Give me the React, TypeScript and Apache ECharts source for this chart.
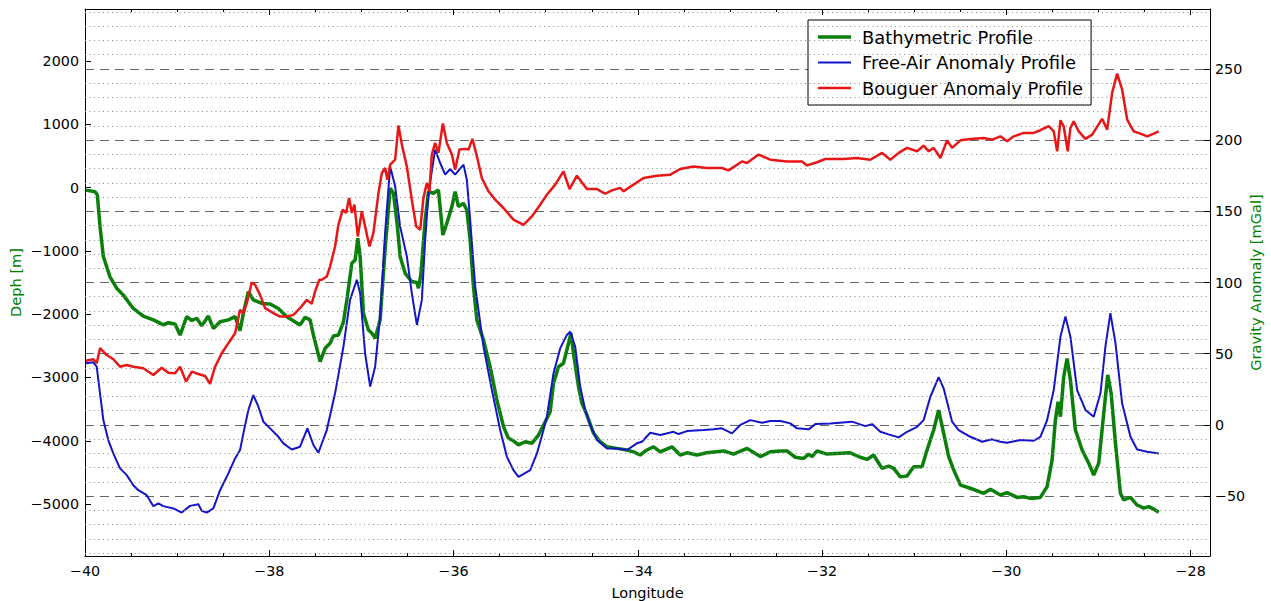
import { useEffect, useRef } from "react";
import * as echarts from "echarts";

// Bathymetric profile: [longitude, depth in m] (left axis)
const bathymetry: [number, number][] = [
  [-39.989, -41], [-39.891, -65], [-39.866, -120], [-39.837, -618], [-39.801, -1090], [-39.729, -1410],
  [-39.656, -1590], [-39.584, -1700], [-39.476, -1910], [-39.367, -2030], [-39.258, -2090], [-39.150, -2170],
  [-39.096, -2135], [-39.023, -2155], [-38.968, -2330], [-38.896, -2040], [-38.841, -2100], [-38.787, -2065],
  [-38.733, -2185], [-38.661, -2030], [-38.607, -2225], [-38.534, -2120], [-38.444, -2090], [-38.371, -2040],
  [-38.317, -2260], [-38.281, -1985], [-38.227, -1645], [-38.173, -1775], [-38.081, -1830], [-37.991, -1840],
  [-37.901, -1910], [-37.810, -2040], [-37.666, -2170], [-37.611, -2050], [-37.557, -2090], [-37.521, -2330],
  [-37.448, -2750], [-37.394, -2540], [-37.340, -2460], [-37.304, -2345], [-37.250, -2330], [-37.195, -2120],
  [-37.158, -1775], [-37.104, -1195], [-37.068, -1145], [-37.039, -800], [-37.014, -1090], [-36.978, -1985],
  [-36.924, -2250], [-36.887, -2300], [-36.851, -2380], [-36.797, -2090], [-36.743, -985], [-36.688, -10],
  [-36.652, -90], [-36.609, -618], [-36.580, -1090], [-36.525, -1355], [-36.453, -1485], [-36.398, -1500],
  [-36.381, -1590], [-36.355, -1380], [-36.308, -510], [-36.272, -65], [-36.218, -90], [-36.164, -40],
  [-36.116, -750], [-36.073, -565], [-36.018, -300], [-35.983, -65], [-35.947, -300], [-35.892, -250],
  [-35.856, -355], [-35.820, -830], [-35.784, -1565], [-35.747, -2090], [-35.675, -2410], [-35.603, -2830],
  [-35.530, -3355], [-35.458, -3775], [-35.404, -3960], [-35.350, -4000], [-35.295, -4065], [-35.222, -4015],
  [-35.150, -4040], [-35.078, -3910], [-35.005, -3700], [-34.951, -3540], [-34.915, -3090], [-34.861, -2830],
  [-34.807, -2775], [-34.752, -2460], [-34.726, -2300], [-34.698, -2620], [-34.644, -3145], [-34.607, -3410],
  [-34.553, -3590], [-34.481, -3880], [-34.408, -4015], [-34.335, -4095], [-34.227, -4120], [-34.118, -4145],
  [-34.047, -4175], [-33.974, -4225], [-33.901, -4145], [-33.829, -4095], [-33.757, -4175], [-33.630, -4095],
  [-33.540, -4225], [-33.467, -4190], [-33.358, -4225], [-33.250, -4190], [-33.069, -4160], [-32.961, -4210],
  [-32.815, -4120], [-32.671, -4250], [-32.562, -4175], [-32.454, -4160], [-32.381, -4160], [-32.291, -4260],
  [-32.201, -4280], [-32.146, -4210], [-32.109, -4250], [-32.055, -4160], [-31.947, -4210], [-31.694, -4190],
  [-31.585, -4260], [-31.512, -4295], [-31.441, -4225], [-31.350, -4435], [-31.278, -4400], [-31.223, -4435],
  [-31.151, -4570], [-31.078, -4555], [-31.006, -4410], [-30.915, -4410], [-30.861, -4145], [-30.789, -3830],
  [-30.735, -3515], [-30.681, -3880], [-30.626, -4250], [-30.572, -4460], [-30.499, -4700], [-30.391, -4750],
  [-30.246, -4830], [-30.173, -4765], [-30.065, -4855], [-29.992, -4820], [-29.884, -4895], [-29.812, -4885],
  [-29.739, -4910], [-29.631, -4895], [-29.558, -4725], [-29.504, -4305], [-29.468, -3670], [-29.439, -3385],
  [-29.413, -3620], [-29.378, -2990], [-29.341, -2700], [-29.305, -3040], [-29.251, -3830], [-29.178, -4145],
  [-29.106, -4355], [-29.052, -4540], [-28.998, -4355], [-28.943, -3565], [-28.900, -2960], [-28.863, -3250],
  [-28.816, -4040], [-28.762, -4830], [-28.726, -4935], [-28.653, -4895], [-28.581, -5015], [-28.509, -5065],
  [-28.455, -5040], [-28.400, -5080], [-28.346, -5130],
];

// Free-air anomaly: [longitude, mGal] (right axis)
const freeAir: [number, number][] = [
  [-39.989, 43.3], [-39.910, 44], [-39.873, 40.9], [-39.837, 22.2], [-39.801, 3.4], [-39.747, -10.6],
  [-39.693, -20], [-39.620, -30.5], [-39.547, -35.2], [-39.476, -42.3], [-39.421, -45.8], [-39.330, -49.3],
  [-39.258, -57], [-39.204, -55.1], [-39.150, -57], [-39.041, -58.6], [-38.950, -61.5], [-38.860, -56.8],
  [-38.770, -55.6], [-38.733, -60.3], [-38.679, -61.5], [-38.607, -58.6], [-38.534, -45.8], [-38.444, -34],
  [-38.371, -23.5], [-38.317, -17.6], [-38.281, -5.9], [-38.227, 10.5], [-38.173, 21], [-38.118, 12.8],
  [-38.064, 2.3], [-37.991, -2.4], [-37.901, -8.3], [-37.847, -12.9], [-37.756, -17.2], [-37.666, -15.3],
  [-37.586, -2.4], [-37.521, -14.1], [-37.467, -19.5], [-37.376, -3.6], [-37.286, 22.2], [-37.195, 55],
  [-37.123, 87.8], [-37.050, 101.9], [-37.014, 92.5], [-36.960, 50.3], [-36.905, 26.9], [-36.851, 40.9],
  [-36.797, 76.1], [-36.743, 134.7], [-36.688, 181.5], [-36.634, 167.5], [-36.580, 139.4], [-36.507, 118.3],
  [-36.453, 92.5], [-36.398, 70.2], [-36.344, 87.8], [-36.308, 130], [-36.272, 162.8], [-36.200, 193.3],
  [-36.145, 183.9], [-36.091, 175.7], [-36.037, 179.7], [-35.983, 175.7], [-35.892, 182.7], [-35.856, 172.2],
  [-35.820, 144.1], [-35.765, 97.2], [-35.675, 55], [-35.584, 24.5], [-35.494, -3.6], [-35.421, -22.4],
  [-35.350, -31.7], [-35.295, -36.4], [-35.168, -31.7], [-35.095, -20], [-35.024, -3.6], [-34.987, 5.8],
  [-34.915, 36.3], [-34.842, 53.9], [-34.770, 63.2], [-34.734, 65.5], [-34.680, 55], [-34.625, 26.9],
  [-34.571, 10.5], [-34.517, 0], [-34.444, -10.6], [-34.335, -16.5], [-34.227, -16.5], [-34.118, -17.6],
  [-34.010, -12.9], [-33.955, -11.8], [-33.865, -5.5], [-33.757, -7.1], [-33.612, -4.8], [-33.558, -6.4],
  [-33.467, -4.3], [-33.286, -3.6], [-33.178, -3.1], [-33.087, -2.4], [-32.978, -5.9], [-32.888, 0],
  [-32.779, 3.4], [-32.652, 1.5], [-32.562, 2.7], [-32.454, 2.7], [-32.418, 2.3], [-32.345, 1.1],
  [-32.273, -2.4], [-32.146, -3.1], [-32.073, 0.6], [-31.911, 1.1], [-31.675, 2.3], [-31.531, -0.8],
  [-31.458, 0.6], [-31.368, -4.8], [-31.278, -6.6], [-31.169, -8.7], [-31.078, -4.8], [-30.969, -1.3],
  [-30.898, 3.4], [-30.825, 19.8], [-30.735, 33.5], [-30.681, 25.7], [-30.589, 2.3], [-30.518, -3.6],
  [-30.391, -8.3], [-30.263, -11.8], [-30.155, -10.1], [-30.065, -11.8], [-29.992, -12.5], [-29.848, -10.6],
  [-29.703, -11.1], [-29.631, -8.3], [-29.558, 3.4], [-29.486, 24.5], [-29.413, 62], [-29.359, 76.1],
  [-29.305, 62], [-29.232, 24.5], [-29.142, 10.5], [-29.052, 5.8], [-28.979, 22.2], [-28.925, 55],
  [-28.871, 78.5], [-28.816, 57.4], [-28.744, 15.2], [-28.653, -8.3], [-28.581, -17.2], [-28.472, -18.8],
  [-28.346, -20],
];

// Bouguer anomaly: [longitude, mGal] (right axis)
const bouguer: [number, number][] = [
  [-39.989, 45.1], [-39.910, 46.1], [-39.873, 43.3], [-39.837, 53.9], [-39.764, 49.1], [-39.693, 46.1],
  [-39.620, 40.9], [-39.547, 42.1], [-39.476, 40.9], [-39.367, 39.8], [-39.258, 35.1], [-39.167, 40.2],
  [-39.096, 36.7], [-39.023, 36.3], [-38.968, 40.9], [-38.903, 30.4], [-38.841, 37.4], [-38.770, 35.8],
  [-38.697, 34.4], [-38.643, 28.8], [-38.588, 40.9], [-38.516, 50.3], [-38.444, 57.4], [-38.371, 64.4],
  [-38.317, 80.8], [-38.281, 78.5], [-38.244, 85.5], [-38.190, 100], [-38.154, 98.4], [-38.100, 91.3],
  [-38.046, 82], [-37.955, 78.5], [-37.883, 76.1], [-37.810, 76.1], [-37.738, 77.3], [-37.666, 82],
  [-37.593, 87.8], [-37.539, 85], [-37.503, 93.7], [-37.456, 101.9], [-37.430, 101.9], [-37.376, 104.2],
  [-37.340, 111.2], [-37.286, 125.3], [-37.250, 140.5], [-37.202, 151.1], [-37.166, 148.8], [-37.134, 159.3],
  [-37.104, 148.8], [-37.076, 154.6], [-37.039, 132.3], [-36.996, 149.9], [-36.960, 139.4], [-36.913, 125.3],
  [-36.870, 134.7], [-36.815, 162.8], [-36.778, 176.9], [-36.743, 180.4], [-36.718, 172.2], [-36.688, 182.7],
  [-36.634, 186.2], [-36.598, 210.2], [-36.561, 196.8], [-36.507, 181.5], [-36.453, 158.1], [-36.406, 139.4],
  [-36.362, 137], [-36.327, 159.3], [-36.290, 169.9], [-36.262, 164], [-36.236, 189.8], [-36.200, 198],
  [-36.164, 191], [-36.116, 211.6], [-36.073, 198], [-36.018, 189.8], [-35.983, 179.2], [-35.936, 193.3],
  [-35.874, 193.8], [-35.838, 193.3], [-35.795, 200.8], [-35.747, 188.6], [-35.693, 173.4], [-35.621, 164],
  [-35.548, 158.1], [-35.458, 152.3], [-35.350, 144.1], [-35.241, 140.5], [-35.150, 146.4], [-35.060, 154.6],
  [-34.987, 161.6], [-34.897, 168.7], [-34.807, 178], [-34.741, 165.6], [-34.661, 175], [-34.553, 165.6],
  [-34.444, 165.6], [-34.354, 162.3], [-34.281, 164.7], [-34.191, 166.4], [-34.155, 164], [-34.047, 168.7],
  [-33.938, 173.4], [-33.793, 175], [-33.648, 175.7], [-33.540, 179.7], [-33.395, 181.5], [-33.250, 180.4],
  [-33.087, 180.4], [-33.015, 178.7], [-32.870, 185], [-32.815, 183.9], [-32.689, 189.8], [-32.562, 186.2],
  [-32.381, 185], [-32.218, 185], [-32.164, 182.2], [-32.055, 184.4], [-31.965, 186.7], [-31.766, 186.7],
  [-31.621, 187.4], [-31.477, 186.2], [-31.350, 191], [-31.259, 186.2], [-31.169, 191], [-31.078, 194.5],
  [-30.969, 192.1], [-30.898, 196.1], [-30.843, 192.1], [-30.789, 194.5], [-30.716, 187.4], [-30.644, 199.8],
  [-30.589, 194.5], [-30.499, 199.8], [-30.391, 200.8], [-30.246, 201.5], [-30.155, 200.3], [-30.065, 202.6],
  [-29.992, 199.1], [-29.920, 202.6], [-29.812, 205], [-29.703, 205], [-29.631, 206.9], [-29.540, 209.7],
  [-29.486, 206.1], [-29.449, 192.1], [-29.413, 213.9], [-29.378, 209.7], [-29.334, 192.1], [-29.305, 208.5],
  [-29.269, 213.2], [-29.215, 206.1], [-29.142, 200.8], [-29.069, 203.8], [-28.961, 214.9], [-28.906, 207.3],
  [-28.852, 233.1], [-28.798, 246.7], [-28.744, 235.5], [-28.689, 214.4], [-28.618, 206.1], [-28.545, 204.5],
  [-28.472, 202.6], [-28.400, 204.5], [-28.346, 206.1],
];

const seriesNames = ["Bathymetric Profile", "Free-Air Anomaly Profile", "Bouguer Anomaly Profile"];
const seriesColors = ["#0a800a", "#1414c8", "#e81616"];
const seriesWidths = [3.5, 2, 2.5];

// Minor (dotted) gravity grid values, mGal
const gravityMinorGrid = [
  -90, -80, -70, -60, -40, -30, -20, -10, 10, 20, 30, 40, 60, 70, 80, 90, 110, 120, 130, 140,
  160, 170, 180, 190, 210, 220, 230, 240, 260, 270, 280, 290,
];

const FONT = "DejaVu Sans";
const minus = (v: number) => String(v).replace("-", "\u2212");

export default function App() {
  const ref = useRef<HTMLDivElement>(null);
  useEffect(() => {
    if (!ref.current) return;
    const chart = echarts.init(ref.current, undefined, { renderer: "svg" });
    const axisLine = { show: true, onZero: false, lineStyle: { color: "#000", width: 1 } };
    const tick = { show: true, inside: true, length: 6, lineStyle: { color: "#000", width: 1 } };
    const labelBase = { fontSize: 14.3, color: "#000", fontFamily: FONT, formatter: minus };
    chart.setOption({
      animation: false,
      backgroundColor: "#fff",
      textStyle: { fontFamily: FONT },
      grid: { left: 85, right: 61, top: 9, bottom: 45, containLabel: false, outerBoundsMode: "none" },
      legend: {
        data: seriesNames.map((name, i) => ({
          name,
          icon: `path://M0,0h33v${seriesWidths[i]}h-33z`,
        })),
        orient: "vertical",
        left: 808,
        top: 20,
        padding: [8, 8, 8, 10],
        itemWidth: 33,
        itemHeight: 18,
        itemGap: 7.5,
        backgroundColor: "#fff",
        borderColor: "#000",
        borderWidth: 1,
        borderRadius: 0,
        textStyle: { fontSize: 17.9, color: "#000", fontFamily: FONT, padding: [0, 0, 0, 6] },
      },
      xAxis: [
        {
          type: "value",
          min: -40,
          max: -27.79,
          interval: 2,
          position: "bottom",
          name: "Longitude",
          nameLocation: "middle",
          nameGap: 29,
          nameMoveOverlap: false,
          nameTextStyle: { fontSize: 14.5, color: "#000", fontFamily: FONT },
          axisLine,
          axisTick: tick,
          minorTick: { show: true, splitNumber: 4, length: 3, lineStyle: { color: "#000" } },
          axisLabel: { ...labelBase, margin: 8, showMaxLabel: false },
          splitLine: { show: false },
        },
        {
          type: "value",
          min: -40,
          max: -27.79,
          interval: 2,
          position: "top",
          axisLine,
          axisTick: tick,
          minorTick: { show: true, splitNumber: 4, length: 3, lineStyle: { color: "#000" } },
          axisLabel: { show: false },
          splitLine: { show: false },
        },
      ],
      yAxis: [
        {
          type: "value",
          min: -5820,
          max: 2820,
          splitNumber: 8,
          position: "left",
          name: "Deph [m]",
          nameLocation: "middle",
          nameGap: 62,
          nameMoveOverlap: false,
          nameTextStyle: { fontSize: 14.6, color: "#008000", fontFamily: FONT },
          axisLine,
          axisTick: tick,
          axisLabel: { ...labelBase, margin: 6, showMinLabel: false, showMaxLabel: false },
          splitLine: { show: false },
        },
        {
          type: "value",
          min: -92,
          max: 292,
          splitNumber: 7,
          position: "right",
          name: "Gravity Anomaly [mGal]",
          nameLocation: "middle",
          nameGap: 38,
          nameMoveOverlap: false,
          nameTextStyle: { fontSize: 14.6, color: "#008000", fontFamily: FONT },
          axisLine,
          axisTick: tick,
          axisLabel: { ...labelBase, margin: 5, showMinLabel: false, showMaxLabel: false },
          splitLine: { show: true, lineStyle: { color: "#666", width: 1, type: [9, 6] } },
        },
      ],
      series: [
        {
          type: "line",
          xAxisIndex: 0,
          yAxisIndex: 1,
          data: [],
          z: 1,
          silent: true,
          markLine: {
            silent: true,
            symbol: ["none", "none"],
            label: { show: false },
            animation: false,
            lineStyle: { color: "#888", width: 1, type: [1, 3.5] },
            data: gravityMinorGrid.map((v) => ({ yAxis: v })),
          },
        },
        ...[bathymetry, freeAir, bouguer].map((data, i) => ({
          name: seriesNames[i],
          type: "line",
          xAxisIndex: 0,
          yAxisIndex: i === 0 ? 0 : 1,
          data,
          symbol: "none",
          z: 3 + i,
          lineStyle: { color: seriesColors[i], width: seriesWidths[i] },
          itemStyle: { color: seriesColors[i] },
        })),
      ],
    });
    return () => chart.dispose();
  }, []);
  return <div ref={ref} style={{ position: "fixed", left: 0, top: 0, width: 1271, height: 601 }} />;
}
